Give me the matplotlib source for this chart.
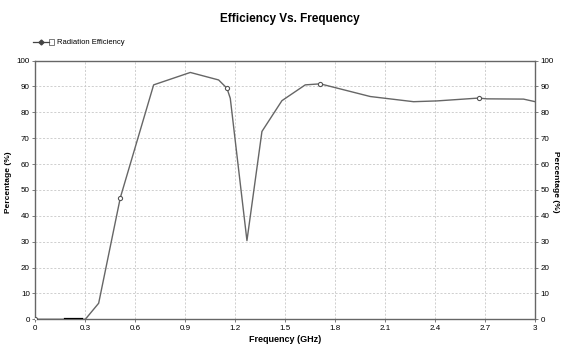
import matplotlib
matplotlib.use("Agg")
import matplotlib.pyplot as plt
from matplotlib.lines import Line2D
from matplotlib.patches import Rectangle
from matplotlib import font_manager

fams = {f.name for f in font_manager.fontManager.ttflist}
base = 'Liberation Sans Narrow' if 'Liberation Sans Narrow' in fams else 'Liberation Sans'
plt.rcParams['font.family'] = [base, 'DejaVu Sans']

freq = [0.0, 0.18, 0.28, 0.30, 0.38, 0.51, 0.71, 0.93, 1.10, 1.15, 1.17, 1.27, 1.36, 1.48, 1.62, 1.71, 2.01, 2.27, 2.41, 2.57, 2.66, 2.71, 2.93, 3.0]
eff = [0.0, 0.0, 0.0, 0.0, 6.2, 47.0, 90.6, 95.4, 92.5, 89.3, 85.4, 30.4, 72.6, 84.5, 90.6, 91.0, 86.1, 84.1, 84.4, 85.1, 85.5, 85.2, 85.1, 84.1]
marker_idx = [0, 5, 9, 15, 20]
xticks = [0, 0.3, 0.6, 0.9, 1.2, 1.5, 1.8, 2.1, 2.4, 2.7, 3]
xticklabels = ['0', '0.3', '0.6', '0.9', '1.2', '1.5', '1.8', '2.1', '2.4', '2.7', '3']
yticks = list(range(0, 101, 10))

fig = plt.figure(figsize=(5.61, 3.48), dpi=100)
ax = fig.add_axes([0.063, 0.0825, 0.891, 0.7435])

lc = '#666666'
ax.plot(freq, eff, color=lc, lw=1.0, zorder=3)
ax.plot(freq[1:3], eff[1:3], color='black', lw=1.6, zorder=4)
ax.plot([freq[i] for i in marker_idx], [eff[i] for i in marker_idx], ls='none',
        marker='o', ms=3, mfc='white', mec='#555555', mew=0.8, zorder=5)

ax.set_xlim(0, 3)
ax.set_ylim(0, 100)
ax.set_xticks(xticks)
ax.set_xticklabels(xticklabels)
ax.set_yticks(yticks)
ax.grid(True, color='#c8c8c8', ls=(0, (2.5, 2)), lw=0.6)
for s in ax.spines.values():
    s.set_color('#666666')
    s.set_linewidth(1.0)
ax.tick_params(labelsize=5.8, length=2, width=0.6, color='#666666', pad=2)
ax.set_xlabel('Frequency (GHz)', fontsize=6.5, fontweight='bold', labelpad=2)

ax2 = ax.twinx()
ax2.set_ylim(0, 100)
ax2.set_yticks(yticks)
ax2.tick_params(labelsize=5.8, length=2, width=0.6, color='#666666', pad=2)
for s in ax2.spines.values():
    s.set_visible(False)

ymid = 1 - 182 / 348
fig.text(9 / 561, ymid, 'Percentage (%)', rotation=90, ha='center', va='center',
         fontsize=6, fontweight='bold')
fig.text(555.5 / 561, ymid, 'Percentage (%)', rotation=-90, ha='center', va='center',
         fontsize=6, fontweight='bold')

fig.text(0.517, 0.945, 'Efficiency Vs. Frequency', ha='center', va='center',
         fontsize=8.5, fontweight='bold')

# legend
ly = 1 - 42 / 348
fig.add_artist(Line2D([33 / 561, 49 / 561], [ly, ly], color='#444444', lw=0.9))
fig.add_artist(Line2D([41 / 561], [ly], color='#444444', marker='D', ms=2.5,
                      mfc='#444444', mec='#444444', ls='none'))
fig.add_artist(Rectangle((49 / 561, ly - 3 / 348), 5 / 561, 6 / 348, fill=False,
                         ec='#666666', lw=0.6, transform=fig.transFigure))
fig.text(57 / 561, ly, 'Radiation Efficiency', ha='left', va='center', fontsize=5.5)

fig.savefig('out.png', dpi=100)
